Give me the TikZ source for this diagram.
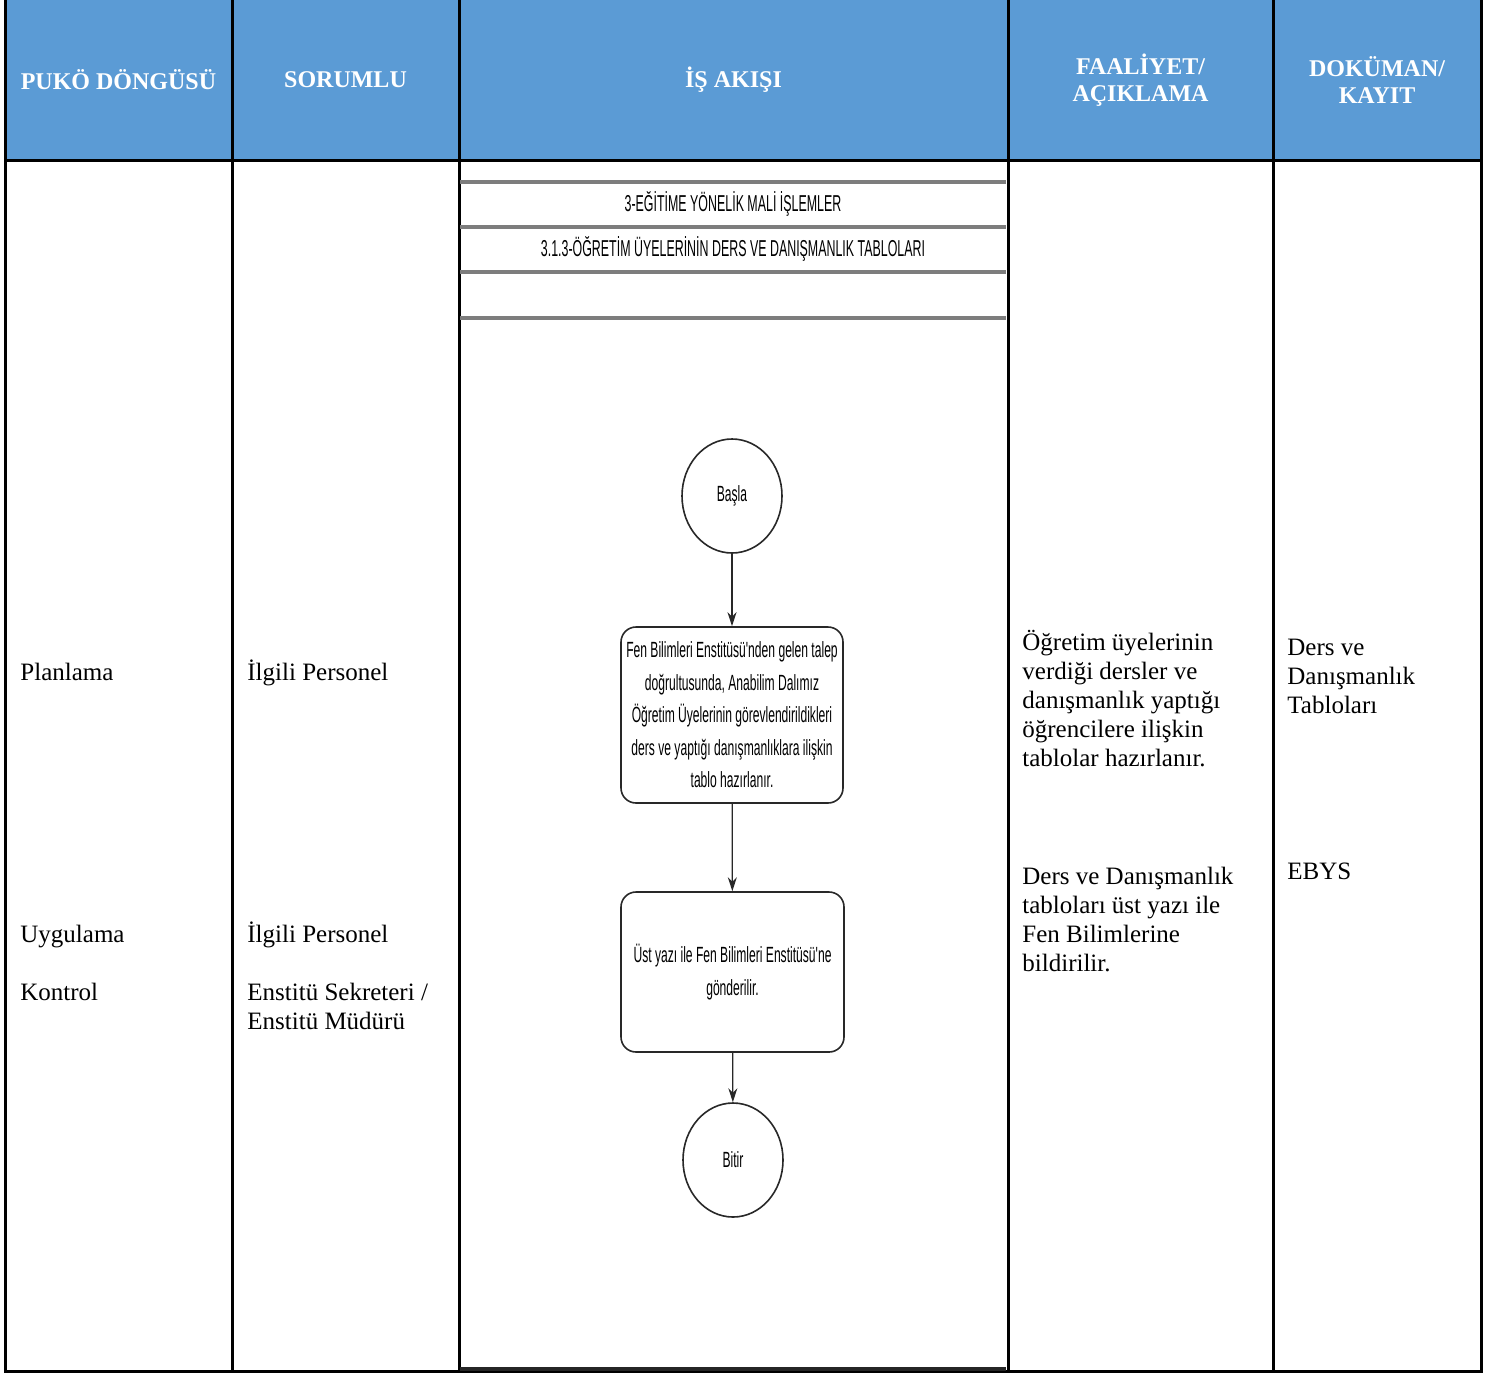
\documentclass[tikz,border=0pt]{standalone}
\usepackage{fontspec}
\setmainfont{Liberation Serif}
\newfontfamily\fcfont[FakeStretch=0.55]{Liberation Sans}
\newfontfamily\ttlfont[FakeStretch=0.54]{Liberation Sans}
\usetikzlibrary{arrows.meta,shapes.geometric}
\definecolor{hdr}{RGB}{91,155,213}
\definecolor{lanegray}{RGB}{125,125,125}
\definecolor{boxline}{RGB}{40,40,40}
\newcommand\mylines[1]{\begin{tabular}[t]{@{}l@{}}#1\end{tabular}}
\begin{document}
\begin{tikzpicture}[x=0.5pt,y=-0.5pt,
  tbl/.style={line width=1.5pt,black},
  hdrtext/.style={text=white,font=\bfseries\fontsize{12}{13.5}\selectfont,align=center,inner sep=0pt},
  body/.style={font=\fontsize{12.5}{14.5}\selectfont,inner sep=0pt,anchor=base west},
  laneline/.style={line width=2pt,lanegray},
  lanetitle/.style={font=\ttlfont\fontsize{11.5}{13}\selectfont,inner sep=0pt},
  term/.style={ellipse,draw=boxline,line width=0.8pt,minimum width=50pt,minimum height=57pt,inner sep=0pt,font=\fcfont\fontsize{11}{16.25}\selectfont},
  proc/.style={rectangle,rounded corners=7.5pt,draw=boxline,line width=0.8pt,inner sep=0pt,align=center,font=\fcfont\fontsize{11}{16.25}\selectfont},
  flow/.style={draw=boxline,line width=0.6pt,-{Stealth[length=7pt,width=4.5pt]}}
]
\useasboundingbox (0,0) rectangle (1491,1376);
% header background
\fill[hdr] (5,0) rectangle (1481,160);
% table grid
\draw[tbl] (5,0) -- (5,1371) -- (1481,1371) -- (1481,0);
\draw[tbl] (5,160) -- (1481,160);
\foreach \x in {232,459,1008,1273} \draw[tbl] (\x,0) -- (\x,1371);
% header texts
\node[hdrtext] (h1) at (118.5,80) {PUKÖ DÖNGÜSÜ};
\node[hdrtext] (h2) at (345.5,80) {SORUMLU};
\node[hdrtext] (h3) at (733.5,80) {İŞ AKIŞI};
\node[hdrtext] (h4) at (1140.5,80) {FAALİYET/\\AÇIKLAMA};
\node[hdrtext] (h5) at (1377,80) {DOKÜMAN/\\KAYIT};
% lane header lines
\foreach \y in {182,227,272,318} \draw[laneline] (460,\y) -- (1006,\y);
\draw[line width=2pt,black!85] (460,1369) -- (1006,1369);
\node[lanetitle] (t1) at (733,204) {3-EĞİTİME YÖNELİK MALİ İŞLEMLER};
\node[lanetitle] (t2) at (733,249) {3.1.3-ÖĞRETİM ÜYELERİNİN DERS VE DANIŞMANLIK TABLOLARI};
% flowchart
\node[term] (start) at (732,496) {Başla};
\node[proc,minimum width=111pt,minimum height=88pt] (b1) at (732,715)
  {Fen Bilimleri Enstitüsü'nden gelen talep\\doğrultusunda, Anabilim Dalımız\\Öğretim Üyelerinin görevlendirildikleri\\ders ve yaptığı danışmanlıklara ilişkin\\tablo hazırlanır.};
\node[proc,minimum width=111.5pt,minimum height=80pt] (b2) at (732.5,972)
  {Üst yazı ile Fen Bilimleri Enstitüsü'ne\\gönderilir.};
\node[term] (end) at (733,1160) {Bitir};
\draw[flow] (start) -- (b1);
\draw[flow] (b1) -- (b2);
\draw[flow] (b2) -- (end);
% PUKO column
\node[body] (p1) at (20,680) {Planlama};
\node[body] (p2) at (20,942) {Uygulama};
\node[body] (p3) at (20,1000) {Kontrol};
% Sorumlu column
\node[body] (s1) at (247,680) {İlgili Personel};
\node[body] (s2) at (247,942) {İlgili Personel};
\node[body] (s3) at (247,1000) {\mylines{Enstitü Sekreteri /\\Enstitü Müdürü}};
% Faaliyet column
\node[body] (f1) at (1022,650) {\mylines{Öğretim üyelerinin\\verdiği dersler ve\\danışmanlık yaptığı\\öğrencilere ilişkin\\tablolar hazırlanır.}};
\node[body] (f2) at (1022,884) {\mylines{Ders ve Danışmanlık\\tabloları üst yazı ile\\Fen Bilimlerine\\bildirilir.}};
% Doküman column
\node[body] (d1) at (1287,655) {\mylines{Ders ve\\Danışmanlık\\Tabloları}};
\node[body] (d2) at (1287,879) {EBYS};
\end{tikzpicture}
\end{document}
